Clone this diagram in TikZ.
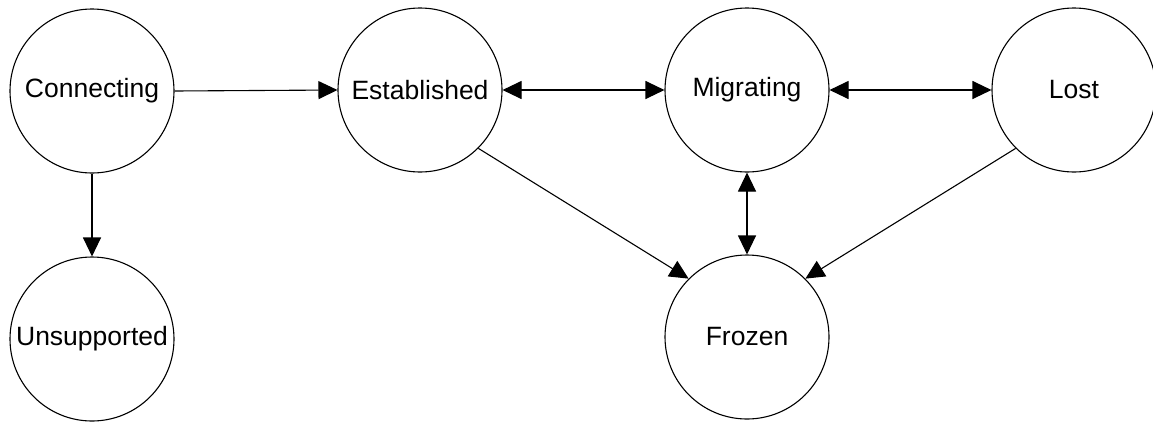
\documentclass[tikz,border=0pt]{standalone}
\usepackage{fontspec}
\setmainfont{Liberation Sans}
\usetikzlibrary{arrows.meta}
\begin{document}
\begin{tikzpicture}[x=1pt,y=-1pt,
  state/.style={circle,draw,line width=1.1pt,minimum size=164pt,inner sep=0pt,font=\fontsize{26.5}{30}\selectfont},
  conn/.style={line width=1.1pt,-{Triangle[length=19pt,width=18pt]}},
  both/.style={line width=1.1pt,{Triangle[length=19pt,width=18pt]}-{Triangle[length=19pt,width=18pt]}}]
\useasboundingbox (0,0) rectangle (1153,421);
\node[state] (con) at (92,91) {Connecting};
\node[state] (est) at (420,90) {Established};
\node[state] (mig) at (747,90) {Migrating};
\node[state] (lost) at (1074,90) {Lost};
\node[state] (uns) at (92,339) {Unsupported};
\node[state] (fro) at (747,337) {Frozen};
\draw[conn] (con.east) -- (est.west);
\draw[conn] (con.south) -- (uns.north);
\draw[both] (est.east) -- (mig.west);
\draw[both] (mig.east) -- (lost.west);
\draw[both] (mig.south) -- (fro.north);
\draw[conn] (est.-45) -- (fro.135);
\draw[conn] (lost.-135) -- (fro.45);
\end{tikzpicture}
\end{document}
